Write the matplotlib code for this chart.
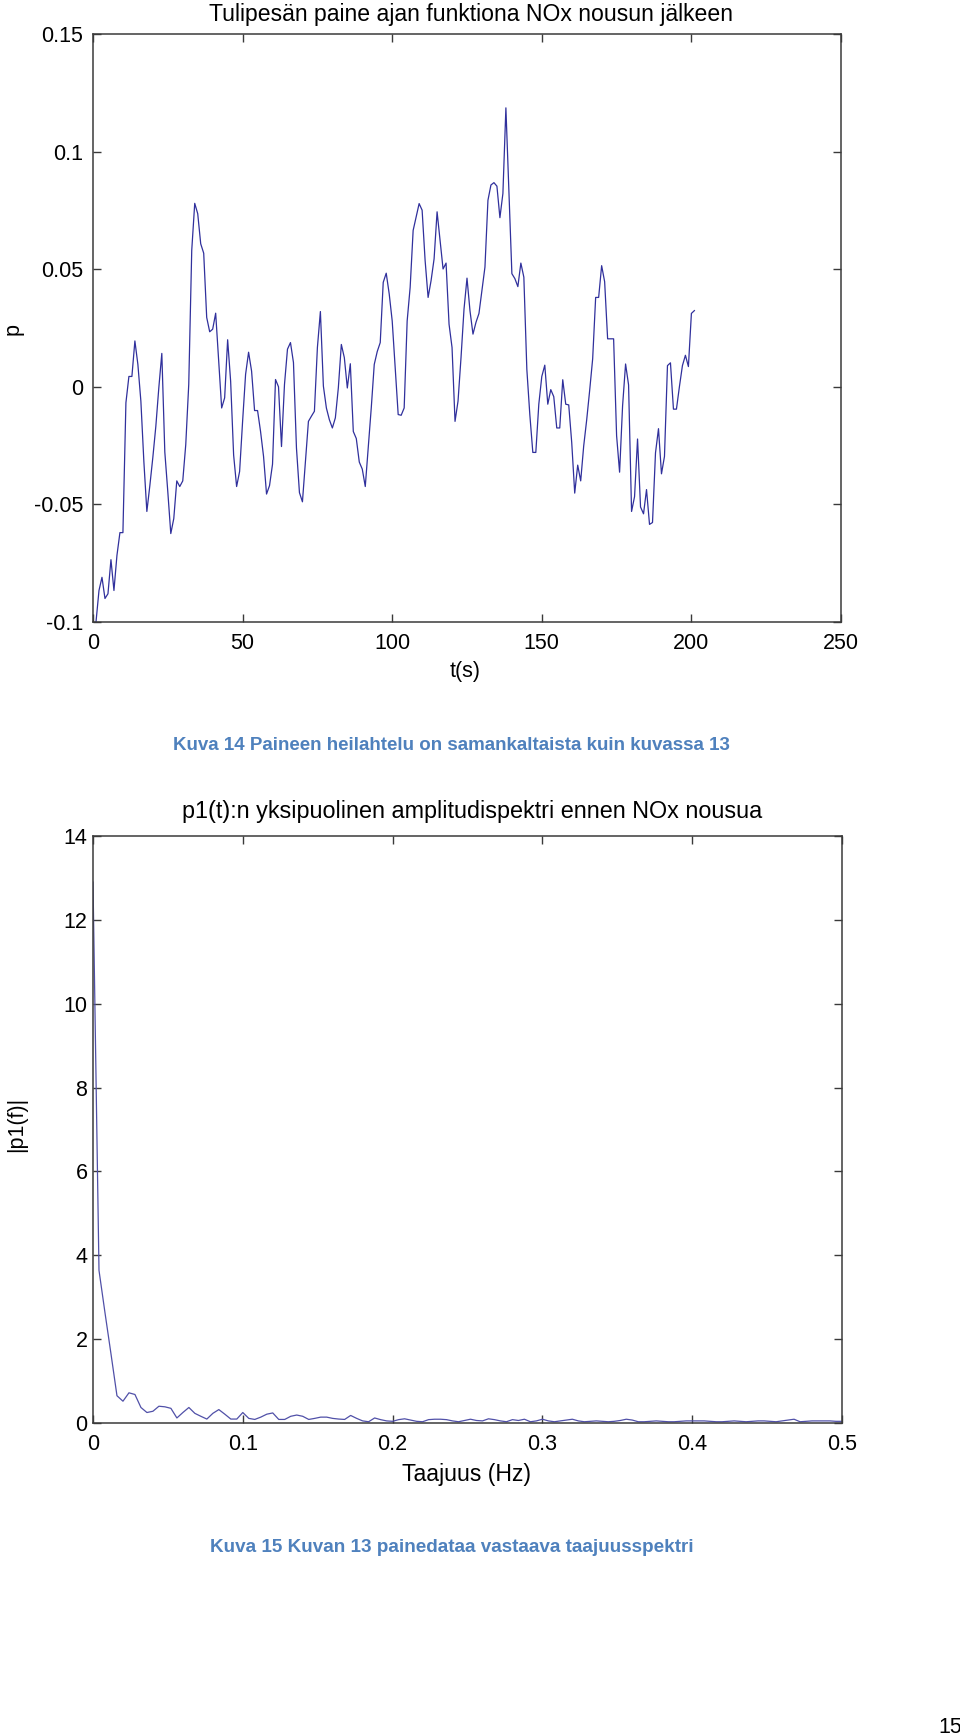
import matplotlib
matplotlib.use("Agg")
import matplotlib.pyplot as plt
import numpy as np
from matplotlib import font_manager

# Pressure after the NOx rise, one sample per second (t = 1..201)
pressure = [
    -0.100, -0.0866, -0.081, -0.090, -0.088, -0.0735, -0.0866, -0.0717, -0.062, -0.062,
    -0.0068, 0.0044, 0.0044, 0.0195, 0.0095, -0.0061, -0.0318, -0.053, -0.042, -0.030,
    -0.0168, -0.0004, 0.0142, -0.0277, -0.0446, -0.0624, -0.056, -0.040, -0.0424, -0.040,
    -0.0246, 0.001, 0.058, 0.078, 0.0736, 0.0608, 0.0568, 0.0295, 0.0234, 0.0245,
    0.0313, 0.011, -0.009, -0.0047, 0.020, 0.0024, -0.029, -0.0424, -0.036, -0.0147,
    0.0053, 0.0147, 0.0067, -0.0101, -0.0101, -0.019, -0.0296, -0.0456, -0.042, -0.0329,
    0.0031, 0.0, -0.0254, 0.001, 0.016, 0.0188, 0.0103, -0.026, -0.045, -0.0489,
    -0.0318, -0.0147, -0.0125, -0.0104, 0.0167, 0.032, 0.0003, -0.009, -0.014, -0.0175,
    -0.0132, -0.0004, 0.018, 0.0124, -0.0005, 0.0098, -0.019, -0.022, -0.032, -0.035,
    -0.0424, -0.026, -0.009, 0.0095, 0.015, 0.0188, 0.0444, 0.0483, 0.0395, 0.028,
    0.008, -0.0118, -0.0121, -0.009, 0.028, 0.0423, 0.0665, 0.0722, 0.0779, 0.0751,
    0.0537, 0.038, 0.0452, 0.0544, 0.0744, 0.0622, 0.0501, 0.0526, 0.0266, 0.0167,
    -0.0147, -0.0061, 0.0124, 0.033, 0.0462, 0.0323, 0.0224, 0.0274, 0.0312, 0.0409,
    0.0509, 0.0793, 0.0858, 0.0868, 0.0853, 0.0719, 0.0822, 0.1186, 0.083, 0.0481,
    0.046, 0.0426, 0.0526, 0.0466, 0.0074, -0.0119, -0.0279, -0.0279, -0.0074, 0.0044,
    0.0092, -0.0074, -0.0012, -0.0042, -0.0175, -0.0175, 0.003, -0.0074, -0.0077, -0.0237,
    -0.0452, -0.0333, -0.040, -0.0252, -0.0141, -0.0015, 0.0119, 0.038, 0.038, 0.0515,
    0.0447, 0.0204, 0.0204, 0.0204, -0.0208, -0.0363, -0.0081, 0.0097, 0.0008, -0.053,
    -0.0467, -0.0222, -0.0511, -0.054, -0.0437, -0.0585, -0.0577, -0.0281, -0.0178, -0.037,
    -0.0296, 0.009, 0.0102, -0.0095, -0.0095, 0.0001, 0.009, 0.0134, 0.0086, 0.0312,
    0.0324,
]
time_s = np.arange(1, len(pressure) + 1)

# One-sided amplitude spectrum, df = 0.004 Hz
spectrum = [
    12.9, 3.64, 2.63, 1.65, 0.65, 0.52, 0.72, 0.68, 0.37, 0.25,
    0.28, 0.40, 0.386, 0.35, 0.12, 0.25, 0.37, 0.23, 0.16, 0.094,
    0.23, 0.32, 0.21, 0.094, 0.094, 0.25, 0.11, 0.085, 0.14, 0.21,
    0.24, 0.085, 0.085, 0.16, 0.19, 0.16, 0.085, 0.11, 0.14, 0.14,
    0.11, 0.094, 0.085, 0.18, 0.11,
    0.05, 0.03, 0.12, 0.08, 0.05, 0.04, 0.08, 0.10, 0.07, 0.04,
    0.03, 0.08, 0.09, 0.09, 0.08, 0.05, 0.03, 0.06, 0.09, 0.06,
    0.05, 0.10, 0.08, 0.05, 0.03, 0.08, 0.06, 0.09, 0.03, 0.05,
    0.09, 0.05, 0.03, 0.05, 0.07, 0.09, 0.05, 0.03, 0.04, 0.05,
    0.04, 0.03, 0.04, 0.06, 0.09, 0.07, 0.03, 0.03, 0.04, 0.05,
    0.04, 0.03, 0.03, 0.04, 0.05, 0.05, 0.05, 0.05, 0.04, 0.03,
    0.03, 0.04, 0.05, 0.04, 0.03, 0.04, 0.05, 0.05, 0.04, 0.03,
    0.05, 0.07, 0.09, 0.03, 0.04, 0.05, 0.05, 0.05, 0.05, 0.04,
    0.04,
]
freq_hz = np.arange(len(spectrum)) * 0.004

top_xticks = [0, 50, 100, 150, 200, 250]
top_yticks = [-0.1, -0.05, 0, 0.05, 0.1, 0.15]
top_yticklabels = ["-0.1", "-0.05", "0", "0.05", "0.1", "0.15"]
bot_xticks = [0, 0.1, 0.2, 0.3, 0.4, 0.5]
bot_xticklabels = ["0", "0.1", "0.2", "0.3", "0.4", "0.5"]
bot_yticks = [0, 2, 4, 6, 8, 10, 12, 14]

W, H = 960, 1736
installed = {f.name for f in font_manager.fontManager.ttflist}
narrow = "Liberation Sans Narrow" if "Liberation Sans Narrow" in installed else "Liberation Sans"
plt.rcParams["font.family"] = ["Liberation Sans", "DejaVu Sans"]
plt.rcParams["font.size"] = 15.5

fig = plt.figure(figsize=(W / 100, H / 100), dpi=100)
fig.patch.set_facecolor("white")


def fx(px):
    return px / W


def fy(px):
    return 1 - px / H


def style_axes(ax, ypad=8):
    for s in ax.spines.values():
        s.set_color("#3a3a3a")
        s.set_linewidth(1.1)
    ax.tick_params(direction="in", top=True, right=True, length=6,
                   width=1.0, color="#3a3a3a", pad=8, labelsize=15.5)
    ax.tick_params(axis="y", pad=ypad)


# Top: pressure vs time
ax1 = fig.add_axes([fx(93), fy(622), fx(841 - 93), (622 - 34) / H])
ax1.plot(time_s, pressure, color="#30309c", linewidth=0.9)
ax1.set_xlim(0, 250)
ax1.set_ylim(-0.1, 0.15)
ax1.set_xticks(top_xticks)
ax1.set_xticklabels([str(v) for v in top_xticks])
ax1.set_yticks(top_yticks)
ax1.set_yticklabels(top_yticklabels)
style_axes(ax1, ypad=7)

# Bottom: amplitude spectrum
ax2 = fig.add_axes([fx(93), fy(1423), fx(842 - 93), (1423 - 836) / H])
ax2.plot(freq_hz, spectrum, color="#5050a8", linewidth=0.9)
ax2.set_xlim(0, 0.5)
ax2.set_ylim(0, 14)
ax2.set_xticks(bot_xticks)
ax2.set_xticklabels(bot_xticklabels)
ax2.set_yticks(bot_yticks)
ax2.set_yticklabels([str(v) for v in bot_yticks])
style_axes(ax2, ypad=4)

# Texts placed in figure pixels
t1 = fig.text(fx(471), fy(14), "Tulipesän paine ajan funktiona NOx nousun jälkeen",
              ha="center", va="center", fontsize=15.5)
fig.text(fx(13), fy(329), "p", rotation=90, ha="center", va="center", fontsize=15.5)
fig.text(fx(465), fy(672), "t(s)", ha="center", va="center", fontsize=15.5)
c1 = fig.text(fx(451), fy(745), "Kuva 14 Paineen heilahtelu on samankaltaista kuin kuvassa 13",
              ha="center", va="center", fontsize=13, fontweight="bold",
              color="#4f81bd", family=[narrow, "DejaVu Sans"])
t2 = fig.text(fx(472), fy(811), "p1(t):n yksipuolinen amplitudispektri ennen NOx nousua",
              ha="center", va="center", fontsize=15.5)
fig.text(fx(17), fy(1124), "|p1(f)|", rotation=90, ha="center", va="center", fontsize=15.5)
t3 = fig.text(fx(466), fy(1475), "Taajuus (Hz)", ha="center", va="center", fontsize=15.5)
c2 = fig.text(fx(452), fy(1547), "Kuva 15 Kuvan 13 painedataa vastaava taajuusspektri",
              ha="center", va="center", fontsize=13, fontweight="bold",
              color="#4f81bd", family=[narrow, "DejaVu Sans"])
fig.text(fx(962), fy(1717), "15", ha="right", va="top", fontsize=15.5)

# scale the long strings so their widths match the page
fig.canvas.draw()
renderer = fig.canvas.get_renderer()
for txt, target in [(t1, 524), (t2, 577), (c1, 556), (c2, 481), (t3, 129)]:
    w = txt.get_window_extent(renderer).width
    txt.set_fontsize(txt.get_fontsize() * target / w)

fig.savefig("out.png", dpi=100, facecolor="white")
